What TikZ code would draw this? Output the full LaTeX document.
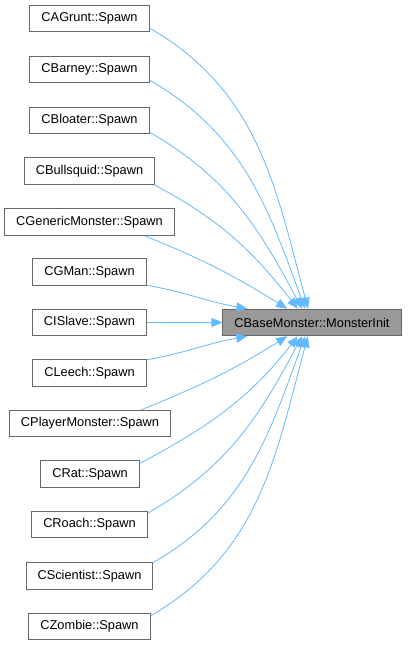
\documentclass[tikz,border=0pt]{standalone}
\usepackage{fontspec}
\setmainfont{Liberation Sans}
\usetikzlibrary{arrows.meta}
\definecolor{callblue}{RGB}{99,184,255}
\definecolor{boxgrey}{RGB}{102,102,102}
\definecolor{rootgrey}{RGB}{153,153,153}

\begin{document}
\begin{tikzpicture}[x=1pt,y=-1pt,
  fn/.style={draw=boxgrey,fill=white,line width=1pt,inner xsep=11.5pt,inner ysep=0pt,minimum height=26.5pt,font=\fontsize{12.8}{14}\selectfont},
  fnroot/.style={fn,fill=rootgrey},
  call/.style={callblue,line width=0.8pt,-{Triangle[length=11pt,width=9pt]}}]
\useasboundingbox (0,0) rectangle (407,645);
% callee
\node[fnroot](root) at (312,322.5){CBaseMonster::MonsterInit};
% callers
\node[fn](agrunt) at (89.5,18.5){CAGrunt::Spawn};
\node[fn](barney) at (89.5,69.5){CBarney::Spawn};
\node[fn](bloater) at (89.5,120.5){CBloater::Spawn};
\node[fn](bullsquid) at (89.5,171){CBullsquid::Spawn};
\node[fn](generic) at (89.5,222){CGenericMonster::Spawn};
\node[fn](gman) at (89.5,272){CGMan::Spawn};
\node[fn](islave) at (89.5,322.5){CISlave::Spawn};
\node[fn](leech) at (89.5,373){CLeech::Spawn};
\node[fn](player) at (90,423.5){CPlayerMonster::Spawn};
\node[fn](rat) at (90,474){CRat::Spawn};
\node[fn](roach) at (89.5,524.5){CRoach::Spawn};
\node[fn](scientist) at (89.5,576){CScientist::Spawn};
\node[fn](zombie) at (89.5,626.5){CZombie::Spawn};
% calls from above
\draw[call](agrunt.-9) to[out=-30,in=105] (root.106);
\draw[call](barney.-10.5) to[out=-30,in=110] (root.117);
\draw[call](bloater.-11.5) to[out=-30,in=118] (root.126);
\draw[call](bullsquid.-12) to[out=-28,in=128] (root.136);
\draw[call](generic.-14) to[out=-22,in=148] (root.151);
\draw[call](gman.-13) to[out=-10,in=170] (root.168);
\draw[call](islave.east) -- (root.west);
% calls from below
\draw[call](leech.13) to[out=10,in=190] (root.192);
\draw[call](player.15) to[out=22,in=212] (root.209);
\draw[call](rat.12.7) to[out=28,in=232] (root.224);
\draw[call](roach.11) to[out=30,in=242] (root.234);
\draw[call](scientist.12) to[out=30,in=250] (root.243);
\draw[call](zombie.10.4) to[out=30,in=255] (root.253.5);
\end{tikzpicture}
\end{document}
